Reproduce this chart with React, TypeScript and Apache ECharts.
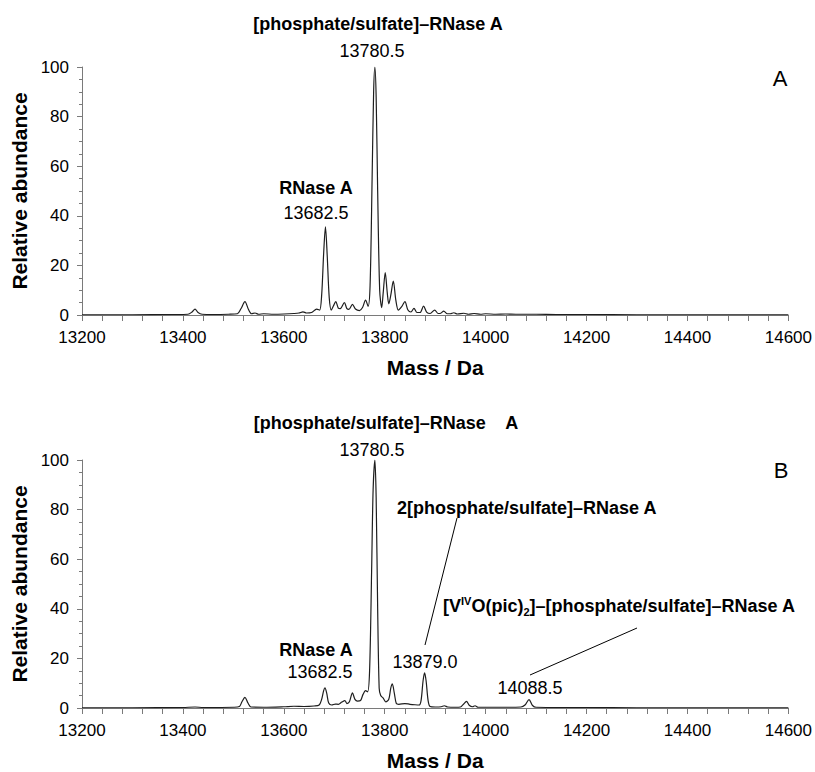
import React, { useEffect, useRef } from "react";
import * as echarts from "echarts";

// ---- data ----
const X_MIN = 13200;
const X_MAX = 14600;
const X_INTERVAL = 200;
const Y_MIN = 0;
const Y_MAX = 100;
const Y_INTERVAL = 20;

const xAxisTitle = "Mass / Da";
const yAxisTitle = "Relative abundance";

// Panel A spectrum: [mass (Da), relative abundance]
const spectrumA: [number, number][] = [
  [13200, 0.1], [13300, 0.1], [13380, 0.2], [13410, 0.3], [13418, 1.2], [13424, 2.4],
  [13430, 1.0], [13438, 0.3], [13460, 0.2], [13490, 0.3], [13508, 0.5], [13515, 2.5],
  [13523, 5.4], [13530, 2.2], [13536, 0.5], [13543, 0.8], [13550, 0.3], [13560, 0.5],
  [13580, 0.3], [13600, 0.4], [13620, 0.6], [13630, 0.8], [13638, 1.3], [13645, 0.8],
  [13655, 1.0], [13665, 2.4], [13671, 2.0], [13675, 8], [13679, 25], [13682.5, 35.5],
  [13686, 24], [13690, 7], [13694, 2.0], [13698, 3.5], [13703, 5.4], [13708, 2.8],
  [13712, 2.6], [13720, 5.0], [13725, 2.6], [13729, 2.3], [13736, 4.3], [13742, 2.4],
  [13750, 1.8], [13756, 3.0], [13762, 6.0], [13767, 3.5], [13771, 12], [13775, 55],
  [13778, 90], [13780.5, 100], [13783, 88], [13786, 50], [13790, 10], [13794, 3],
  [13797, 9], [13801, 17.1], [13805, 9], [13808, 4.5], [13812, 8], [13817, 13.7],
  [13822, 6], [13827, 2.0], [13834, 3.5], [13840, 5.4], [13846, 2.0], [13852, 1.2],
  [13858, 2.7], [13864, 1.0], [13870, 1.0], [13877, 3.6], [13883, 1.2], [13890, 0.6],
  [13899, 2.0], [13906, 0.6], [13911, 0.7], [13917, 1.6], [13924, 0.5], [13930, 0.5],
  [13937, 0.9], [13944, 0.4], [13957, 0.7], [13966, 0.3], [13977, 0.6], [13990, 0.3],
  [14000, 0.5], [14020, 0.3], [14040, 0.4], [14060, 0.3], [14080, 0.3], [14100, 0.3],
  [14140, 0.2], [14200, 0.2], [14300, 0.1], [14400, 0.1], [14500, 0.1], [14600, 0.1],
];

// Panel B spectrum: [mass (Da), relative abundance]
const spectrumB: [number, number][] = [
  [13200, 0.1], [13300, 0.1], [13400, 0.2], [13424, 0.4], [13440, 0.2], [13500, 0.3],
  [13512, 0.6], [13517, 2.5], [13523, 4.3], [13529, 2.0], [13535, 0.4], [13560, 0.3],
  [13600, 0.5], [13620, 0.7], [13640, 0.6], [13660, 0.8], [13670, 1.2], [13675, 3.5],
  [13679, 7], [13681.5, 8.1], [13685, 6], [13689, 2], [13695, 1.2], [13702, 1.6],
  [13708, 1.5], [13715, 2.4], [13721, 3.0], [13725, 1.8], [13730, 2.5], [13736, 6.1],
  [13741, 3.5], [13746, 2.8], [13752, 3.0], [13757, 5.5], [13762, 7.0], [13766, 6.5],
  [13770, 15], [13774, 55], [13777, 88], [13780.5, 100], [13783, 85], [13786, 40],
  [13789, 8], [13792, 5.0], [13797, 4.0], [13802, 2.5], [13808, 3.5], [13812, 8],
  [13815, 9.7], [13819, 6], [13823, 1.8], [13828, 1.5], [13840, 1.8], [13850, 1.5],
  [13860, 1.3], [13868, 1.2], [13872, 3], [13876, 11], [13879, 14.2], [13882, 11],
  [13886, 3], [13890, 0.6], [13900, 0.4], [13912, 0.5], [13918, 0.9], [13925, 0.4],
  [13940, 0.3], [13950, 0.4], [13956, 1.5], [13962, 2.7], [13968, 1.0], [13974, 0.5],
  [13979, 0.9], [13985, 0.3], [14000, 0.3], [14040, 0.3], [14070, 0.4], [14078, 1.2],
  [14086, 3.4], [14093, 1.0], [14100, 0.3], [14150, 0.2], [14200, 0.2], [14300, 0.1],
  [14400, 0.1], [14500, 0.1], [14600, 0.1],
];

const FONT = "'Liberation Sans', Arial, Helvetica, sans-serif";
const AXIS_COLOR = "#7a7a7a";
const LINE_COLOR = "#1e1e1e";

function makeXAxis(gridIndex: number) {
  return {
    type: "value",
    gridIndex,
    min: X_MIN,
    max: X_MAX,
    interval: X_INTERVAL,
    axisLine: { show: true, lineStyle: { color: AXIS_COLOR, width: 1 } },
    axisTick: { show: true, inside: false, length: 6, lineStyle: { color: AXIS_COLOR } },
    minorTick: { show: true, splitNumber: 5, length: 6, lineStyle: { color: AXIS_COLOR } },
    splitLine: { show: false },
    minorSplitLine: { show: false },
    axisLabel: {
      fontSize: 17,
      color: "#000",
      margin: 14,
      fontFamily: FONT,
      formatter: (v: number) => String(v),
    },
    name: xAxisTitle,
    nameLocation: "middle",
    nameGap: 42,
    nameTextStyle: { fontSize: 21, fontWeight: "bold", color: "#000", fontFamily: FONT },
  };
}

function makeYAxis(gridIndex: number) {
  return {
    type: "value",
    gridIndex,
    min: Y_MIN,
    max: Y_MAX,
    interval: Y_INTERVAL,
    axisLine: { show: true, lineStyle: { color: AXIS_COLOR, width: 1 } },
    axisTick: { show: true, inside: false, length: 5, lineStyle: { color: AXIS_COLOR } },
    minorTick: { show: true, splitNumber: 4, length: 3, lineStyle: { color: AXIS_COLOR } },
    splitLine: { show: false },
    minorSplitLine: { show: false },
    axisLabel: {
      fontSize: 17,
      color: "#000",
      margin: 13,
      fontFamily: FONT,
      formatter: (v: number) => String(v),
    },
    name: yAxisTitle,
    nameLocation: "middle",
    nameGap: 48,
    nameRotate: 90,
    nameTextStyle: { fontSize: 21, fontWeight: "bold", color: "#000", fontFamily: FONT },
  };
}

function txt(
  text: string,
  x: number,
  y: number,
  opts: { bold?: boolean; size?: number; align?: string } = {}
) {
  const align = opts.align || "center";
  return {
    type: "text",
    x,
    y,
    style: {
      text,
      fill: "#000",
      fontSize: opts.size || 18,
      fontWeight: opts.bold ? "bold" : "normal",
      fontFamily: FONT,
      align,
      verticalAlign: "middle",
      textAlign: align,
      textVerticalAlign: "middle",
    },
  };
}

function seg(x1: number, y1: number, x2: number, y2: number) {
  return {
    type: "line",
    shape: { x1, y1, x2, y2 },
    style: { stroke: "#000", lineWidth: 1 },
  };
}

export default function App() {
  const ref = useRef<HTMLDivElement>(null);

  useEffect(() => {
    if (!ref.current) return;
    const chart = echarts.init(ref.current, null, { renderer: "svg" });
    const richBold = { fontSize: 18, fontWeight: "bold", fontFamily: FONT, fill: "#000", lineHeight: 22 };
    const option = {
      animation: false,
      backgroundColor: "#ffffff",
      grid: [
        { left: 82, right: 26, top: 67, height: 248 },
        { left: 82, right: 26, top: 460, height: 248 },
      ],
      xAxis: [makeXAxis(0), makeXAxis(1)],
      yAxis: [makeYAxis(0), makeYAxis(1)],
      series: [
        {
          type: "line",
          xAxisIndex: 0,
          yAxisIndex: 0,
          data: spectrumA,
          symbol: "none",
          showSymbol: false,
          smooth: 0.3,
          lineStyle: { color: LINE_COLOR, width: 1.2 },
        },
        {
          type: "line",
          xAxisIndex: 1,
          yAxisIndex: 1,
          data: spectrumB,
          symbol: "none",
          showSymbol: false,
          smooth: 0.3,
          lineStyle: { color: LINE_COLOR, width: 1.2 },
        },
      ],
      graphic: [
        // Panel A
        txt("[phosphate/sulfate]\u2013RNase A", 378, 24, { bold: true }),
        txt("13780.5", 372, 51),
        txt("RNase A", 316, 188, { bold: true }),
        txt("13682.5", 316, 213),
        txt("A", 780, 78, { size: 22 }),
        // Panel B
        txt("[phosphate/sulfate]\u2013RNase    A", 386, 423, { bold: true }),
        txt("13780.5", 372, 450),
        txt("2[phosphate/sulfate]\u2013RNase A", 397, 508, { bold: true, align: "left" }),
        {
          type: "text",
          x: 443,
          y: 606,
          style: {
            text: "{b|[V}{sup|IV}{b|O(pic)}{sub|2}{b|]\u2013[phosphate/sulfate]\u2013RNase A}",
            align: "left",
            verticalAlign: "middle",
            textAlign: "left",
            textVerticalAlign: "middle",
            rich: {
              b: richBold,
              sup: { fontSize: 11, fontWeight: "bold", fontFamily: FONT, fill: "#000", lineHeight: 22, verticalAlign: "top" },
              sub: { fontSize: 11, fontWeight: "bold", fontFamily: FONT, fill: "#000", lineHeight: 22, verticalAlign: "bottom" },
            },
          },
        },
        txt("RNase A", 316, 650, { bold: true }),
        txt("13682.5", 320, 672),
        txt("13879.0", 425, 662),
        txt("14088.5", 530, 688),
        txt("B", 781, 470, { size: 22 }),
        seg(425, 645, 457, 518),
        seg(530, 675, 637, 628),
      ],
    };
    chart.setOption(option as any);
    return () => chart.dispose();
  }, []);

  return (
    <div
      ref={ref}
      style={{ position: "absolute", left: 0, top: 0, width: 815, height: 772, background: "#fff" }}
    />
  );
}
